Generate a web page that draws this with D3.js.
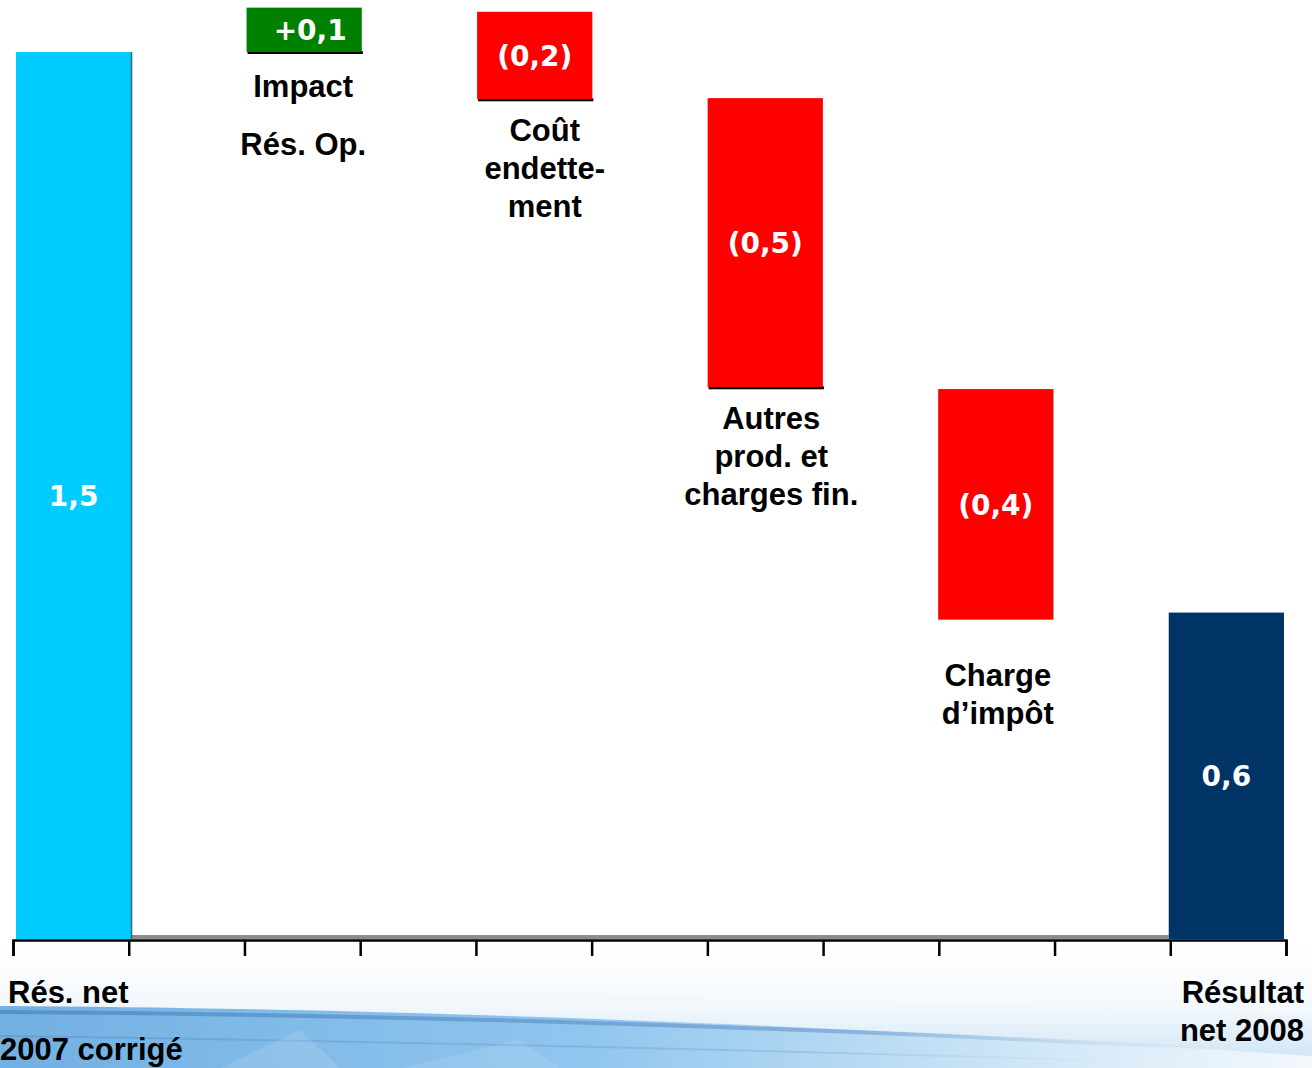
<!DOCTYPE html>
<html>
<head>
<meta charset="utf-8">
<script src="https://cdn.jsdelivr.net/npm/d3@7"></script>
<style>
  html, body { margin: 0; padding: 0; background: #fff; }
  svg { display: block; }
</style>
</head>
<body>
<div id="chart"></div>
<script>
// ---- data ----
const categories = ["Rés. net 2007 corrigé", "Impact Rés. Op.", "Coût endettement",
                    "Autres prod. et charges fin.", "Charge d’impôt", "Résultat net 2008"];
const labelLines = [["Rés. net", "2007 corrigé"], ["Impact", "Rés. Op."], ["Coût", "endette-", "ment"],
                    ["Autres", "prod. et", "charges fin."], ["Charge", "d’impôt"], ["Résultat", "net 2008"]];
const valueLabels = ["1,5", "+0,1", "(0,2)", "(0,5)", "(0,4)", "0,6"];
const barLow  = [0, 1.500, 1.420, 0.933, 0.540, 0];
const barHigh = [1.500, 1.575, 1.568, 1.422, 0.930, 0.552];
const barKind = ["start", "up", "down", "down", "down", "end"];
const slotCount = 11;

// ---- layout ----
const W = 1312, H = 1068;
const svg = d3.select("#chart").append("svg").attr("width", W).attr("height", H);
const defs = svg.append("defs");

// background swoosh at the bottom
const g1 = defs.append("linearGradient").attr("id", "bgFade").attr("x1", 0).attr("y1", 0).attr("x2", 0).attr("y2", 1);
g1.append("stop").attr("offset", 0).attr("stop-color", "#ffffff");
g1.append("stop").attr("offset", 1).attr("stop-color", "#e9f2fa");
const g2 = defs.append("linearGradient").attr("id", "swoosh").attr("x1", 0).attr("y1", 0).attr("x2", 1).attr("y2", 0);
g2.append("stop").attr("offset", 0).attr("stop-color", "#72b0e2");
g2.append("stop").attr("offset", 0.45).attr("stop-color", "#90c6ee");
g2.append("stop").attr("offset", 0.8).attr("stop-color", "#d3e8f7");
g2.append("stop").attr("offset", 1).attr("stop-color", "#f3f8fc");
const g3 = defs.append("linearGradient").attr("id", "streak").attr("x1", 0).attr("y1", 0).attr("x2", 1).attr("y2", 0);
g3.append("stop").attr("offset", 0).attr("stop-color", "#4a86c4").attr("stop-opacity", 0.75);
g3.append("stop").attr("offset", 0.7).attr("stop-color", "#6394c8").attr("stop-opacity", 0.55);
g3.append("stop").attr("offset", 1).attr("stop-color", "#9cc4e6").attr("stop-opacity", 0);
const g4 = defs.append("linearGradient").attr("id", "upperGlow").attr("x1", 0).attr("y1", 0).attr("x2", 0).attr("y2", 1);
g4.append("stop").attr("offset", 0).attr("stop-color", "#ffffff").attr("stop-opacity", 0);
g4.append("stop").attr("offset", 1).attr("stop-color", "#b4d7f2").attr("stop-opacity", 0.9);
const g5 = defs.append("linearGradient").attr("id", "softTop").attr("x1", 0).attr("y1", 0).attr("x2", 0).attr("y2", 1);
g5.append("stop").attr("offset", 0).attr("stop-color", "#ffffff").attr("stop-opacity", 0.7);
g5.append("stop").attr("offset", 1).attr("stop-color", "#ffffff").attr("stop-opacity", 0);

const bg = svg.append("g");
bg.append("rect").attr("x", 0).attr("y", 945).attr("width", W).attr("height", H - 945).attr("fill", "url(#bgFade)");
bg.append("path").attr("d", "M0,975 C300,982 700,995 1312,1015 L1312,1068 L0,1068 Z").attr("fill", "url(#upperGlow)").attr("opacity", 0.75);
bg.append("path").attr("d", "M0,1006 C350,1008 800,1022 1312,1056 L1312,1068 L0,1068 Z").attr("fill", "url(#swoosh)");
bg.append("path").attr("d", "M0,1012 C350,1014 800,1026 1230,1050").attr("fill", "none").attr("stroke", "url(#streak)").attr("stroke-width", 4);
bg.append("path").attr("d", "M0,1036 C300,1040 700,1048 1150,1062").attr("fill", "none").attr("stroke", "url(#streak)").attr("stroke-width", 2).attr("opacity", 0.5);
bg.append("path").attr("d", "M220,1068 L300,1030 L340,1068 Z").attr("fill", "#ffffff").attr("opacity", 0.12);
bg.append("path").attr("d", "M400,1068 L520,1040 L560,1068 Z").attr("fill", "#ffffff").attr("opacity", 0.1);

// scales
const xBars = d3.scaleBand().domain(d3.range(slotCount)).range([16, 1284]).paddingInner(0).paddingOuter(0);
const xTicks = d3.scaleLinear().domain([0, slotCount]).range([13, 1286]);
const y = d3.scaleLinear().domain([0, 1.5]).range([939, 52]);
const slotOf = i => i * 2;

const colors = { start: "#00CCFF", up: "#008000", down: "#FF0000", end: "#003366" };

// grey floor
const floorX0 = xBars(slotOf(0)) + xBars.bandwidth();
svg.append("rect").attr("x", floorX0).attr("y", y(0) - 4)
  .attr("width", xBars(slotOf(5)) - floorX0).attr("height", 4)
  .attr("fill", "#8c8c8c");

// bars
const bars = svg.append("g");
categories.forEach((c, i) => {
  const x0 = xBars(slotOf(i)), w = xBars.bandwidth();
  const yTop = y(barHigh[i]), yBot = y(barLow[i]);
  const kind = barKind[i];
  if (kind === "up" || (kind === "down" && i < 4)) {
    bars.append("rect").attr("x", x0 + 1).attr("y", yBot - 1).attr("width", w).attr("height", 3).attr("fill", "#000");
  }
  if (kind === "start") {
    bars.append("rect").attr("x", x0 + w - 1).attr("y", yTop).attr("width", 2).attr("height", yBot - yTop).attr("fill", "#1d6e8f");
  }
  bars.append("rect").attr("x", x0).attr("y", yTop).attr("width", kind === "start" ? w - 1 : w).attr("height", yBot - yTop)
    .attr("fill", colors[kind]);
  bars.append("text").attr("x", x0 + w / 2 + (kind === "up" ? 6 : 0)).attr("y", (yTop + yBot) / 2 + 10.5)
    .attr("text-anchor", "middle").attr("fill", "#fff")
    .attr("font-family", "DejaVu Sans, Verdana, sans-serif").attr("font-weight", "bold").attr("font-size", 28)
    .text(valueLabels[i]);
});

// axis
const axis = svg.append("g").attr("transform", `translate(0,${y(0) + 1})`)
  .call(d3.axisBottom(xTicks).tickValues(d3.range(slotCount + 1)).tickSize(16).tickSizeOuter(16).tickFormat(""));
axis.selectAll("path, line").attr("stroke", "#000").attr("stroke-width", 2.5);

// category labels
const labelDx = [0, -1, 10, 6, 2, 0];
const labelDy = [0, 45, 42, 42, 66, 0];
const lab = svg.append("g").attr("font-family", "Liberation Sans, Arial, sans-serif")
  .attr("font-weight", "bold").attr("font-size", 31).attr("fill", "#000");
categories.forEach((c, i) => {
  const lines = labelLines[i];
  const cx = xBars(slotOf(i)) + xBars.bandwidth() / 2 + labelDx[i];
  if (i === 0) {
    lab.append("text").attr("x", 8).attr("y", 1003).text(lines[0]);
    lab.append("text").attr("x", 0).attr("y", 1060).text(lines[1]);
  } else if (i === categories.length - 1) {
    lines.forEach((l, k) => lab.append("text").attr("x", 1304).attr("y", 1003 + k * 38)
      .attr("text-anchor", "end").text(l));
  } else {
    const spacing = i === 1 ? 58 : 38;
    const first = y(barLow[i]) + labelDy[i];
    lines.forEach((l, k) => lab.append("text").attr("x", cx).attr("y", first + k * spacing)
      .attr("text-anchor", "middle").text(l));
  }
});
</script>
</body>
</html>
